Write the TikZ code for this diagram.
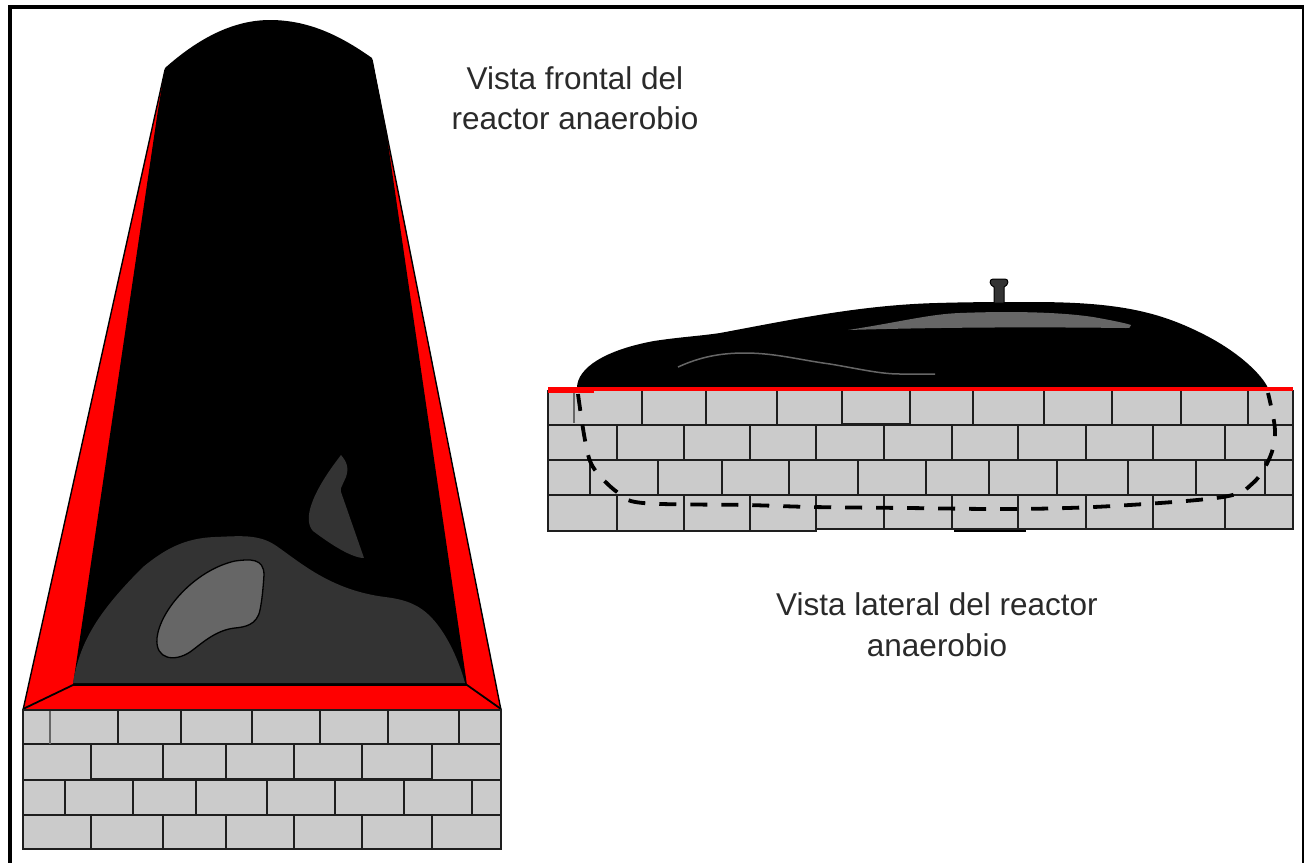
\documentclass[tikz,border=0pt]{standalone}
\usepackage{fontspec}
\setmainfont{Liberation Sans}
\tikzset{
  x=1pt,y=-1pt,
  brick/.style={fill=brickgray,draw=brickline,line width=2.3pt,line join=miter},
  joint/.style={draw=brickline,line width=2.3pt},
  redface/.style={fill=red,draw=black,line width=1.4pt,line join=round},
  label/.style={font=\fontsize{31.5}{36}\selectfont,text=textgray,inner sep=0pt,anchor=center},
}
\definecolor{brickgray}{HTML}{CBCBCB}
\definecolor{brickline}{HTML}{1E1E1E}
\definecolor{textgray}{HTML}{2A2A2A}
\definecolor{mound}{HTML}{333333}
\definecolor{patch}{HTML}{666666}
\begin{document}
\begin{tikzpicture}
\useasboundingbox (0,0) rectangle (1304,863);
\fill[white] (0,0) rectangle (1304,863);
% frame
\fill[black] (8,5) rectangle (1304,9);
\fill[black] (8,5) rectangle (12,863);
\fill[black] (1302,5) rectangle (1304,863);
% front view: red reactor
\path[redface] (23,710) -- (165,70) -- (372,60) -- (501,710) -- cycle;
\path[fill=black] (73,685) -- (158,110) -- (165,68)
  .. controls (192,44) and (228,20) .. (270,20)
  .. controls (312,20) and (345,39) .. (372,58)
  -- (386,130) -- (467,685) -- cycle;
\draw[black,line width=1.8pt] (23,709) -- (73,685) -- (467,685) -- (501,709);
% mound
\fill[mound] (73,683) .. controls (80,640) and (100,610) .. (143,567)
  .. controls (165,549) and (185,538) .. (215,537)
  .. controls (240,536) and (258,534) .. (275,545)
  .. controls (300,562) and (330,590) .. (385,597)
  .. controls (410,600) and (425,607) .. (440,628)
  .. controls (452,645) and (460,665) .. (465,683) -- cycle;
\draw[black,line width=1.8pt] (73,685) -- (467,685);
\filldraw[fill=patch,draw=black,line width=1.3pt] (157,638)
  .. controls (160,610) and (195,570) .. (235,561)
  .. controls (250,559) and (264,558) .. (264,575)
  .. controls (263,590) and (262,600) .. (260,610)
  .. controls (257,625) and (245,627) .. (235,628)
  .. controls (215,630) and (200,645) .. (190,652)
  .. controls (175,662) and (155,660) .. (157,638) -- cycle;
\fill[mound] (341,455) .. controls (347,462) and (349,468) .. (346,477)
  .. controls (340,490) .. (341,492) -- (364,558)
  .. controls (350,558) and (325,540) .. (313,531)
  .. controls (303,520) and (310,495) .. (341,455) -- cycle;
% front wall
\fill[brickgray] (23,710) rectangle (501,849);
\foreach \yy in {744,780,815}{\draw[joint] (23,\yy) -- (501,\yy);}
\draw[brickline,line width=2.8pt] (91,779) -- (432,779);
\draw[patch,line width=2.3pt] (50,710) -- (50,744);
\foreach \xx in {118,181,252,320,388,459}{\draw[joint] (\xx,710) -- (\xx,744);}
\foreach \xx in {91,163,226,294,362,432}{\draw[joint] (\xx,744) -- (\xx,780);\draw[joint] (\xx,815) -- (\xx,849);}
\foreach \xx in {65,133,196,267,335,404,472}{\draw[joint] (\xx,780) -- (\xx,815);}
\draw[brick,fill=none] (23,710) rectangle (501,849);
% side view: dome
\fill[black] (577,388) .. controls (577,368) and (605,350) .. (654,341)
  .. controls (680,337) and (700,336) .. (720,333)
  .. controls (790,320) and (860,305) .. (937,303)
  .. controls (970,302) and (1000,302) .. (1032,302)
  .. controls (1120,302) and (1160,312) .. (1205,335)
  .. controls (1240,353) and (1262,375) .. (1268,388) -- cycle;
\filldraw[fill=mound,draw=black,line width=1pt] (994,303) -- (994,287) .. controls (989,285) and (989,279) .. (993,279) -- (1005,279) .. controls (1009,279) and (1009,285) .. (1004,287) -- (1004,303) -- cycle;
\fill[patch] (848,330) .. controls (900,322) and (930,314) .. (960,313)
  .. controls (1010,311) and (1060,312) .. (1093,317)
  .. controls (1110,320) and (1125,323) .. (1131,325)
  .. controls (1130,328) .. (1126,328) .. controls (1040,327) and (950,327) .. (848,330) -- cycle;
\draw[patch,line width=1.5pt] (678,367) .. controls (700,357) and (720,353) .. (745,353)
  .. controls (775,353) and (800,360) .. (830,364)
  .. controls (860,369) and (880,374) .. (900,374) -- (935,374);
% side wall
\fill[brickgray] (548,390) rectangle (1293,530);
\foreach \yy in {425,460,495}{\draw[joint] (548,\yy) -- (1293,\yy);}
\draw[brickline,line width=2.6pt] (842,424) -- (910,424);
\foreach \xx in {642,706,777,842,910,973,1044,1112,1181,1248}{\draw[joint] (\xx,390) -- (\xx,425);}
\foreach \xx in {617,684,750,816,884,952,1018,1086,1153,1225}{\draw[joint] (\xx,425) -- (\xx,460);\draw[joint] (\xx,495) -- (\xx,530);}
\foreach \xx in {590,658,722,789,858,926,989,1057,1128,1196,1265}{\draw[joint] (\xx,460) -- (\xx,495);}
\draw[brick,fill=none] (548,390) -- (548,531) -- (816,531) -- (816,529) -- (1293,529) -- (1293,390);
\draw[black,line width=2.6pt] (954,531) -- (1026,531);
\draw[patch,line width=2pt] (574,392) -- (574,423);
\draw[red,line width=3.4pt] (548,389) -- (1293,389);
\draw[red,line width=5pt] (548,390) -- (594,390);
\draw[black,line width=3.8pt,dash pattern=on 17pt off 14pt] plot[smooth,tension=0.55] coordinates {(578,394) (585,440) (593,467) (617,492) (643,503) (747,505) (813,507) (907,508) (1017,509) (1113,506) (1223,497) (1253,483) (1270,457) (1275,430) (1268,393)};
% labels
\node[label] (front1) at (575,78) {Vista frontal del};
\node[label] (front2) at (575,118) {reactor anaerobio};
\node[label] (side1) at (937,604) {Vista lateral del reactor};
\node[label] (side2) at (937,645) {anaerobio};
\end{tikzpicture}
\end{document}
